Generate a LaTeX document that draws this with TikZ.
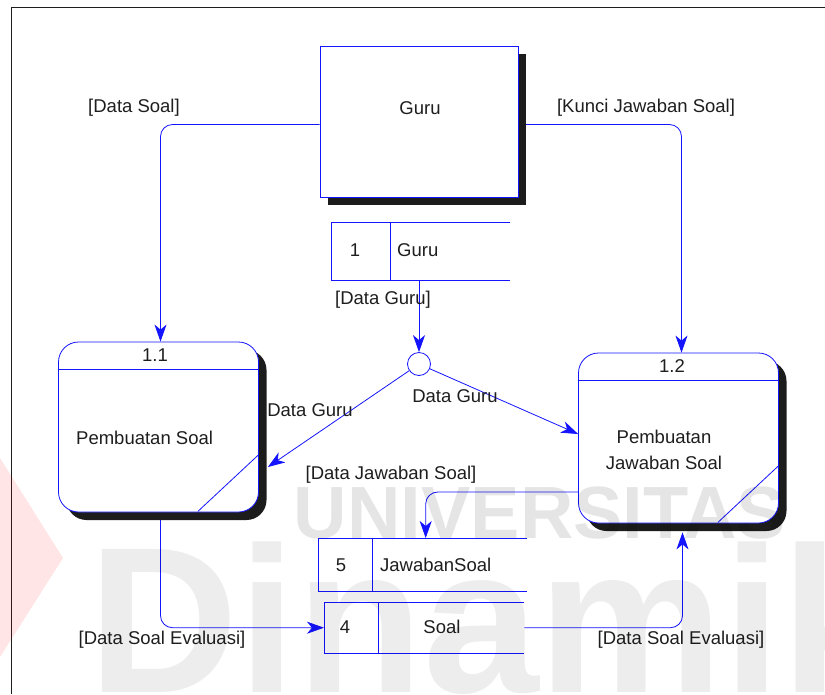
\documentclass[tikz,border=0pt]{standalone}
\usepackage{fontspec}
\setmainfont{Liberation Sans}
\usetikzlibrary{arrows.meta,backgrounds,shadows,calc}
\definecolor{dfdblue}{RGB}{20,20,255}
\definecolor{inkc}{RGB}{30,30,30}
\definecolor{shadowc}{RGB}{28,28,28}
\begin{document}
\begin{tikzpicture}[x=1pt,y=-1pt,
  font=\fontsize{18.5}{22}\selectfont, text=inkc,
  flow/.style={draw=dfdblue, line width=0.8pt, rounded corners=12pt},
  tipped/.style={-{Stealth[length=17pt,width=12pt,inset=5pt]}, fill=none},
  shade8/.style={drop shadow={shadow xshift=8pt, shadow yshift=-8pt, fill=shadowc, opacity=1}},
  entity/.style={draw=dfdblue, fill=white, line width=0.8pt, inner sep=0pt,
    minimum width=198pt, minimum height=151pt, shade8},
  process/.style={draw=dfdblue, fill=white, line width=0.8pt, inner sep=0pt,
    rounded corners=20pt, minimum width=200pt, minimum height=170pt, shade8},
  storebox/.style={inner sep=0pt, anchor=north west},
  storeline/.style={draw=dfdblue, line width=0.8pt},
  lbl/.style={inner sep=0pt, text=inkc}
]
\useasboundingbox (0,0) rectangle (825,694);
\begin{scope}[on background layer]
\fill[white] (0,0) rectangle (825,694);
\end{scope}

% outer frame
\draw[line width=1.8pt, inkc] (11.5,694) -- (11.5,7.5) -- (825,7.5);

% external entity
\node[entity] (guru) at (419,121.5) {};
\node[lbl] at (420,108) {Guru};

% data store 1
\node[storebox, minimum width=179pt, minimum height=58pt] (s1) at (331,222) {};
\draw[storeline] (s1.north east) -- (s1.north west) -- (s1.south west) -- (s1.south east);
\draw[storeline] ($(s1.north west)+(59,0)$) -- ($(s1.south west)+(59,0)$);
\node[lbl] at (355,250) {1};
\node[lbl, anchor=west] at (397,250) {Guru};

% junction
\node[draw=dfdblue, fill=white, line width=0.8pt, circle, minimum size=23pt, inner sep=0pt] (dot) at (419,364) {};

% process 1.1
\node[process] (p11) at (158.5,427) {};
\draw[storeline] ([yshift=-28pt]p11.north west) -- ([yshift=-28pt]p11.north east);
\draw[storeline] ($(p11.south east)+(-1,-57)$) -- ($(p11.south east)+(-61,-1)$);
\node[lbl] at (155,355) {1.1};
\node[lbl, anchor=west] at (76,438) {Pembuatan Soal};

% process 1.2
\node[process] (p12) at (678.5,438) {};
\draw[storeline] ([yshift=-28pt]p12.north west) -- ([yshift=-28pt]p12.north east);
\draw[storeline] ($(p12.south east)+(-1,-57)$) -- ($(p12.south east)+(-61,-1)$);
\node[lbl] at (672,366) {1.2};
\node[lbl, align=center, font=\fontsize{18.5}{26}\selectfont] at (664,450) {Pembuatan\\Jawaban Soal};

% data store 5
\node[storebox, minimum width=209pt, minimum height=53pt] (s5) at (318,538) {};
\draw[storeline] (s5.north east) -- (s5.north west) -- (s5.south west) -- (s5.south east);
\draw[storeline] ($(s5.north west)+(54,0)$) -- ($(s5.south west)+(54,0)$);
\node[lbl] at (341,565) {5};
\node[lbl, anchor=west] at (380,565) {JawabanSoal};

% data store 4
\node[storebox, minimum width=200pt, minimum height=51pt] (s4) at (324,602) {};
\draw[storeline] (s4.north east) -- (s4.north west) -- (s4.south west) -- (s4.south east);
\draw[storeline] ($(s4.north west)+(54,0)$) -- ($(s4.south west)+(54,0)$);
\node[lbl] at (345,627) {4};
\node[lbl] at (442,627) {Soal};

% data flows
\begin{scope}[on background layer]
\draw[flow,tipped] ([yshift=-3pt]guru.west) -| ([xshift=2pt]p11.north);
\draw[flow,tipped] ([yshift=-3pt]guru.east) -| ([xshift=3pt]p12.north);
\draw[flow,tipped] (s1.south -| dot.north) -- (dot.north);
\draw[flow,tipped] (dot) -- ($(p11.east)+(9,40)$);
\draw[flow,tipped] (dot) -- ([yshift=4pt]p12.west);
\draw[flow,tipped] ([yshift=-54pt]p12.west) -| ([xshift=3pt]s5.north);
\draw[flow,tipped] ([xshift=2pt]p11.south) |- (s4.west);
\draw[flow,tipped] (s4.east) -| ($(p12.south)+(4,9)$);
\end{scope}

% flow labels
\node[lbl] at (134,108) {[Data Soal]};
\node[lbl] at (646,108) {[Kunci Jawaban Soal]};
\node[lbl] at (383,300) {[Data Guru]};
\node[lbl] at (310,410) {Data Guru};
\node[lbl] at (455,396) {Data Guru};
\node[lbl] at (391,475) {[Data Jawaban Soal]};
\node[lbl] at (162,640) {[Data Soal Evaluasi]};
\node[lbl] at (681,640) {[Data Soal Evaluasi]};

% watermark
\begin{scope}
\clip (0,0) rectangle (825,694);
\node[inner sep=0pt, font=\fontsize{74}{74}\selectfont\bfseries, text=black, text opacity=0.1] at (540,513) {UNIVERSITAS};
\node[inner sep=0pt, anchor=base west, font=\fontsize{208}{208}\selectfont\bfseries, text=black, text opacity=0.07] at (88,692) {Dinamika};
\fill[red, opacity=0.1] (0,458) -- (63,558) -- (0,657) -- cycle;
\end{scope}
\end{tikzpicture}
\end{document}
